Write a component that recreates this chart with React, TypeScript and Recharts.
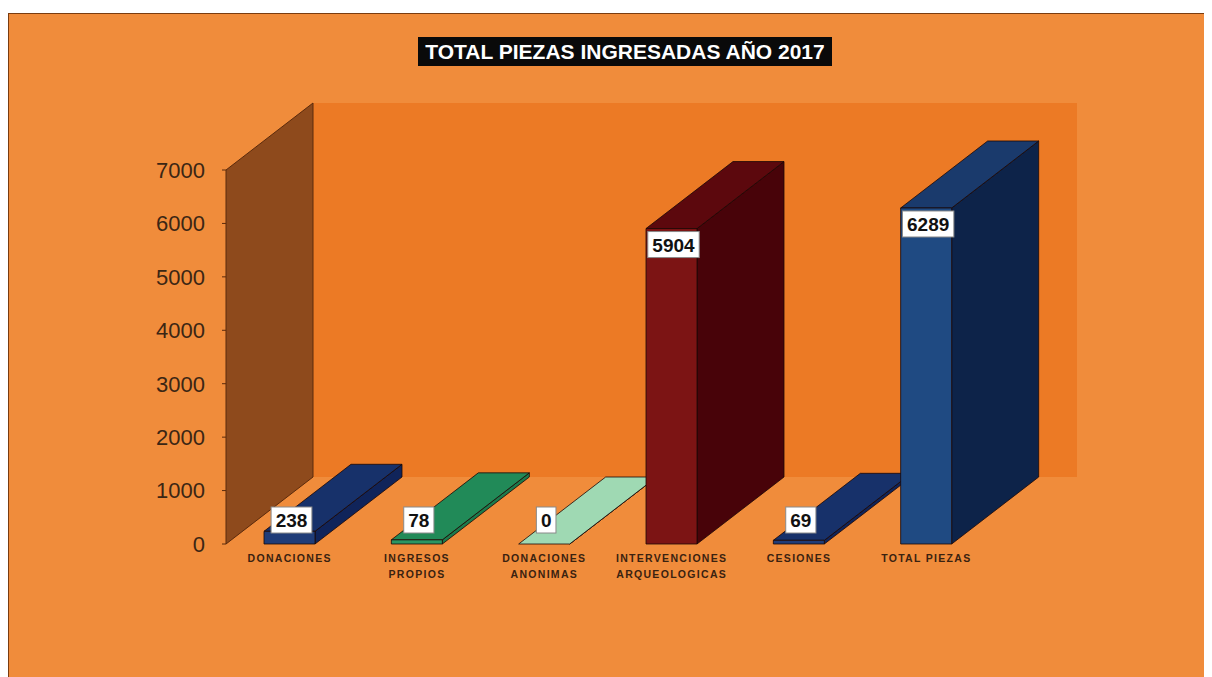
import { BarChart, Bar, XAxis, YAxis, ReferenceArea, LabelList } from 'recharts';

const categories = [
  'DONACIONES',
  'INGRESOS PROPIOS',
  'DONACIONES ANONIMAS',
  'INTERVENCIONES ARQUEOLOGICAS',
  'CESIONES',
  'TOTAL PIEZAS'
];
const categoryLines = [
  ['DONACIONES'],
  ['INGRESOS', 'PROPIOS'],
  ['DONACIONES', 'ANONIMAS'],
  ['INTERVENCIONES', 'ARQUEOLOGICAS'],
  ['CESIONES'],
  ['TOTAL PIEZAS']
];
const values = [238, 78, 0, 5904, 69, 6289];
const yTicks = [0, 1000, 2000, 3000, 4000, 5000, 6000, 7000];

// front / side / top face colours per bar
const PALETTE = [
  { front: '#1f3c78', side: '#10245a', top: '#17316a' },
  { front: '#2a9663', side: '#1b7a4c', top: '#218a58' },
  { front: '#b2e2c2', side: '#8fcfa6', top: '#9fd9b3' },
  { front: '#7c1414', side: '#480309', top: '#5c080d' },
  { front: '#1f3c78', side: '#10245a', top: '#17316a' },
  { front: '#1f4a82', side: '#0d2349', top: '#1a3a6c' }
];

const DX = 87;
const DY = 67;
const FONT = '"Liberation Sans", Arial, sans-serif';

const data = categories.map((name, i) => ({ name, value: values[i] }));

function Walls(props: any) {
  const { x, y, width, height } = props;
  const left = [
    [x, y],
    [x + DX, y - DY],
    [x + DX, y + height - DY],
    [x, y + height]
  ]
    .map((p) => p.join(','))
    .join(' ');
  return (
    <g>
      <rect x={x + DX} y={y - DY} width={width} height={height} fill="#ec7a25" />
      <polygon points={left} fill="#8e4a1c" stroke="#5a2a0c" strokeWidth={1} />
    </g>
  );
}

function Bar3D(props: any) {
  const { x, y, width, height, index } = props;
  const c = PALETTE[index % PALETTE.length];
  const h = Math.max(height || 0, 0);
  const pts = (arr: number[][]) => arr.map((p) => p.join(',')).join(' ');
  const side = pts([
    [x + width, y],
    [x + width + DX, y - DY],
    [x + width + DX, y + h - DY],
    [x + width, y + h]
  ]);
  const top = pts([
    [x, y],
    [x + DX, y - DY],
    [x + width + DX, y - DY],
    [x + width, y]
  ]);
  return (
    <g stroke="#1a0806" strokeWidth={0.8} strokeLinejoin="round">
      <polygon points={side} fill={c.side} />
      <polygon points={top} fill={c.top} />
      <rect x={x} y={y} width={width} height={h} fill={c.front} />
    </g>
  );
}

function ValueLabel(props: any) {
  const vb = props.viewBox && props.viewBox.width != null ? props.viewBox : props;
  const { x, y, width, height } = vb;
  const text = String(props.value);
  const w = text.length * 10.6 + 9;
  const cx = x + width / 2 + 2;
  const baseY = y + height;
  const cy = height > 40 ? y + 16 : baseY - 24;
  return (
    <g>
      <rect x={cx - w / 2} y={cy - 13} width={w} height={26} fill="#ffffff" stroke="#8a8a8a" strokeWidth={1} />
      <text
        x={cx}
        y={cy + 7}
        textAnchor="middle"
        fontFamily={FONT}
        fontWeight="bold"
        fontSize={19}
        fill="#111"
      >
        {text}
      </text>
    </g>
  );
}

function CategoryTick(props: any) {
  const { x, y, payload } = props;
  const idx = categories.indexOf(payload.value);
  const lines = categoryLines[idx] ?? [payload.value];
  return (
    <text
      x={x}
      y={y}
      textAnchor="middle"
      fontFamily={FONT}
      fontWeight="bold"
      fontSize={10.5}
      letterSpacing={1.3}
      fill="#3a2210"
    >
      {lines.map((l, i) => (
        <tspan key={i} x={x} y={y + 18 + i * 16}>
          {l}
        </tspan>
      ))}
    </text>
  );
}

export default function App() {
  return (
    <div style={{ paddingTop: 5 }}>
      <div
        style={{
          position: 'relative',
          width: 1204,
          height: 664,
          background: '#f08c3b',
          boxShadow: 'inset 1px 1px 0 #7a3c10'
        }}
      >
        <div
          style={{
            position: 'absolute',
            left: 410,
            top: 24,
            width: 414,
            height: 29,
            background: '#0a0a0a',
            color: '#ffffff',
            fontFamily: FONT,
            fontWeight: 'bold',
            fontSize: 21,
            lineHeight: '29px',
            textAlign: 'center',
            whiteSpace: 'nowrap',
            zIndex: 2
          }}
        >
          TOTAL PIEZAS INGRESADAS AÑO 2017
        </div>
        <BarChart
          width={1204}
          height={664}
          data={data}
          margin={{ top: 157, right: 222, bottom: 83, left: 138 }}
        >
          <XAxis
            dataKey="name"
            axisLine={false}
            tickLine={false}
            tickSize={0}
            tickMargin={0}
            interval={0}
            height={50}
            tick={<CategoryTick />}
          />
          <YAxis
            type="number"
            domain={[0, 7000]}
            ticks={yTicks}
            interval={0}
            width={80}
            axisLine={false}
            tickLine={{ stroke: '#5a2a0c' }}
            tickSize={4}
            tickMargin={17}
            tick={{ fontFamily: FONT, fontSize: 22, fill: '#3b2614' }}
          />
          <ReferenceArea y1={0} y2={7000} ifOverflow="visible" shape={<Walls />} />
          <Bar dataKey="value" barSize={51} minPointSize={0} shape={<Bar3D />} isAnimationActive={false}>
            <LabelList dataKey="value" content={<ValueLabel />} />
          </Bar>
        </BarChart>
      </div>
    </div>
  );
}
